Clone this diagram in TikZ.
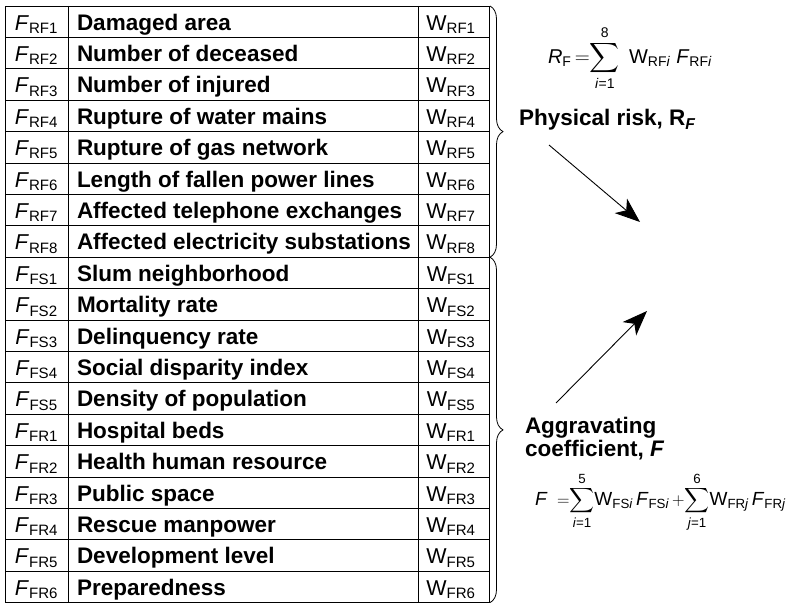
\documentclass[tikz,border=0pt]{standalone}
\usepackage{fontspec}
\setmainfont{Liberation Sans}
\usepackage{amsmath}
\usetikzlibrary{decorations.pathreplacing,arrows.meta}
\begin{document}
\begin{tikzpicture}[x=1pt,y=-1pt,
  every node/.style={inner sep=0pt,outer sep=0pt},
  tbl/.style={line width=0.9pt},
  cell/.style={font=\fontsize{21.5}{25}\selectfont},
  lbl/.style={font=\fontsize{22.5}{26}\selectfont\bfseries},
  frm/.style={font=\fontsize{20}{24}\selectfont},
  frmb/.style={font=\fontsize{19}{23}\selectfont},
  brc/.style={decorate,decoration={brace,amplitude=13pt,raise=1pt},line width=0.8pt},
  arr/.style={line width=0.9pt,-{Triangle[length=25pt,width=19pt,inset=7pt]}}]
\useasboundingbox (0,0) rectangle (796,607);
% table grid
\draw[tbl] (5,6) rectangle (489,602.6);
\draw[tbl] (68,6) -- (68,602.6) (418,6) -- (418,602.6);
\foreach \i in {1,...,18} \draw[tbl] (5,6+\i*31.4) -- (489,6+\i*31.4);
% rows
\foreach \sub/\txt [count=\i] in {RF1/Damaged area, RF2/Number of deceased, RF3/Number of injured, RF4/Rupture of water mains, RF5/Rupture of gas network, RF6/Length of fallen power lines, RF7/Affected telephone exchanges, RF8/Affected electricity substations, FS1/Slum neighborhood, FS2/Mortality rate, FS3/Delinquency rate, FS4/Social disparity index, FS5/Density of population, FR1/Hospital beds, FR2/Health human resource, FR3/Public space, FR4/Rescue manpower, FR5/Development level, FR6/Preparedness}{
  \pgfmathsetmacro\yb{6+(\i-0.5)*31.4+8.4}
  \node[cell,anchor=base] (f\i) at (36.5,\yb) {\textit{F}\textsubscript{\sub}};
  \node[lbl,anchor=base west] (l\i) at (77,\yb) {\txt};
  \node[cell,anchor=base] (w\i) at (451,\yb) {W\textsubscript{\sub}};
}
% braces
\coordinate (b1t) at (489,6);
\coordinate (b1b) at (489,257.2);
\coordinate (b2t) at (489,257.2);
\coordinate (b2b) at (489,602.6);
\draw[brc] (b1t) -- (b1b);
\draw[brc] (b2t) -- (b2b);
% formulas and labels
\node[frm,anchor=west] (rf) at (548,58) {$\displaystyle \text{\textit{R}}_{\text{F}}\,{=}\!\sum_{\text{\textit{i}=1}}^{\text{8}}\;\text{W}_{\text{RF\textit{i}}}\;\text{\textit{F}}_{\text{RF\textit{i}}}$};
\node[lbl,anchor=base west] (pr) at (519,126) {Physical risk, R\textsubscript{\textit{F}}};
\node[lbl,anchor=base west] (ag) at (525,433) {Aggravating};
\node[lbl,anchor=base west] (co) at (525,456) {coefficient, \textit{F}};
\node[frmb,anchor=west] (ff) at (535,502) {$\displaystyle \text{\textit{F}}\;\;{=}\!\sum_{\text{\textit{i}=1}}^{\text{5}}\!\text{W}_{\text{FS\textit{i}}}\,\text{\textit{F}}_{\text{FS\textit{i}}}\,{+}\!\sum_{\text{\textit{j}=1}}^{\text{6}}\!\text{W}_{\text{FR\textit{j}}}\,\text{\textit{F}}_{\text{FR\textit{j}}}$};
% arrows
\coordinate (a1s) at (549,145);
\coordinate (a1e) at (640,222);
\coordinate (a2s) at (556,403);
\coordinate (a2e) at (647,311);
\draw[arr] (a1s) -- (a1e);
\draw[arr] (a2s) -- (a2e);
\end{tikzpicture}
\end{document}
